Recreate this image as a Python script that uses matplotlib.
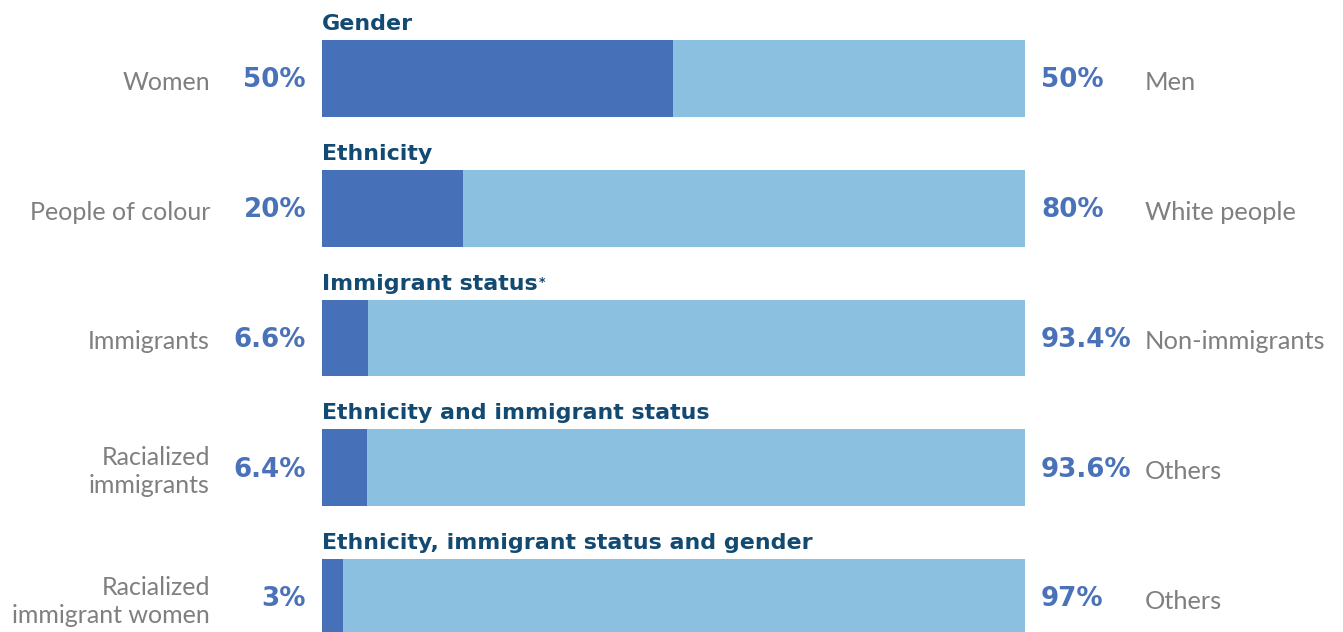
import numpy as np
import matplotlib.pyplot as plt
from matplotlib.transforms import offset_copy

# data
titles = ["Gender", "Ethnicity", "Immigrant status", "Ethnicity and immigrant status",
          "Ethnicity, immigrant status and gender"]
left_labels = ["Women", "People of colour", "Immigrants", "Racialized\nimmigrants",
               "Racialized\nimmigrant women"]
right_labels = ["Men", "White people", "Non-immigrants", "Others", "Others"]
left_vals = [50, 20, 6.6, 6.4, 3]
right_vals = [50, 80, 93.4, 93.6, 97]
left_txt = ["50%", "20%", "6.6%", "6.4%", "3%"]
right_txt = ["50%", "80%", "93.4%", "93.6%", "97%"]
footnote_mark = [False, False, True, False, False]

DARK = "#4670b7"
LIGHT = "#8bc0e0"
TITLE = "#134a72"
PCT = "#4a72b9"
GREY = "#7f7f7f"

W, H = 1343, 632
fig = plt.figure(figsize=(W / 100, H / 100), dpi=100)
ax = fig.add_axes([322 / W, 0, 703 / W, 1])

y = np.arange(len(titles))
bh = 0.593
ax.barh(y, left_vals, height=bh, color=DARK, linewidth=0)
ax.barh(y, right_vals, left=left_vals, height=bh, color=LIGHT, linewidth=0)
ax.set_xlim(0, 100)
ax.set_ylim(4.266, -0.605)
ax.axis("off")

tfont = dict(family=["DejaVu Sans"], fontweight="bold")
lfont = dict(family=["Lato", "DejaVu Sans"])

def off(dx, dy=0):
    return offset_copy(ax.transData, fig=fig, x=dx, y=dy, units="dots")

for i in range(len(titles)):
    yi = y[i]
    ax.text(0, yi - bh / 2, titles[i], transform=off(0, 10), ha="left", va="baseline",
            color=TITLE, fontsize=15.9, **tfont)
    ax.text(0, yi, left_txt[i], transform=off(-16, -2), ha="right", va="center",
            color=PCT, fontsize=18.8, **tfont)
    ax.text(100, yi, right_txt[i], transform=off(16, -2), ha="left", va="center",
            color=PCT, fontsize=18.8, **tfont)
    ax.text(0, yi, left_labels[i], transform=off(-112, -4), ha="right", va="center",
            color=GREY, fontsize=18, linespacing=1.25, **lfont)
    ax.text(100, yi, right_labels[i], transform=off(120, -4), ha="left", va="center",
            color=GREY, fontsize=18.3, **lfont)

fig.canvas.draw()
r = fig.canvas.get_renderer()
for i in range(len(titles)):
    if footnote_mark[i]:
        tt = [t for t in ax.texts if t.get_text() == titles[i]][0]
        bb = tt.get_window_extent(r)
        fig.text((bb.x1 + 1) / W, (bb.y1 - 2) / H, "*", ha="left", va="top",
                 color=TITLE, fontsize=9, **tfont)

fig.savefig("out.png", dpi=100)
